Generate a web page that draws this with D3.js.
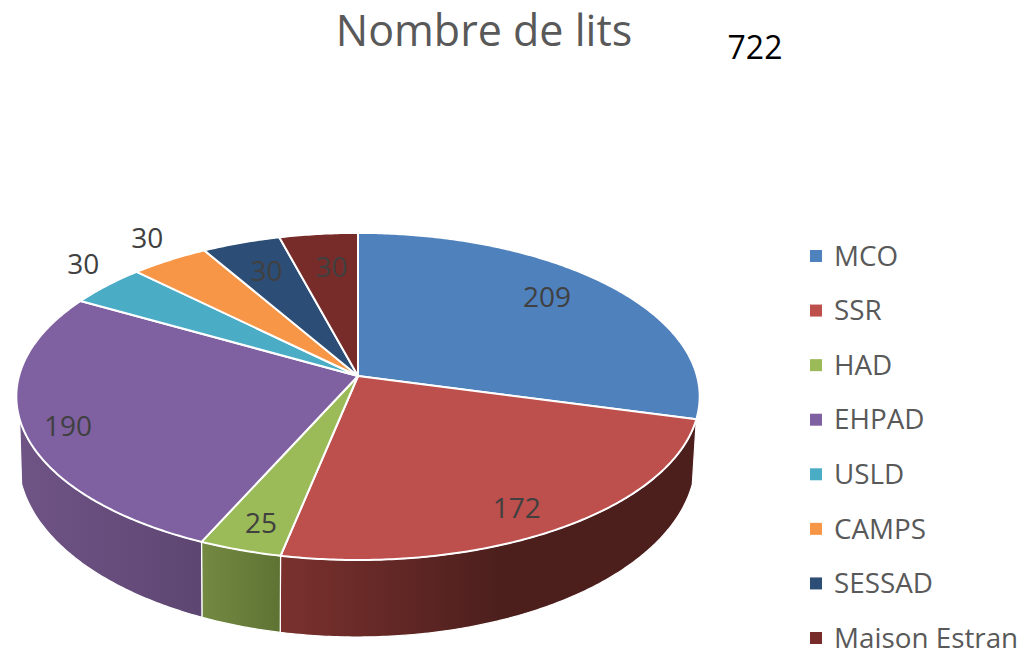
<!DOCTYPE html>
<html>
<head>
<meta charset="utf-8">
<script src="https://cdnjs.cloudflare.com/ajax/libs/d3/7.8.5/d3.min.js"></script>
<style>
  html, body { margin: 0; padding: 0; background: #fff; }
  text { font-family: "Open Sans", sans-serif; }
</style>
</head>
<body>
<div id="chart"></div>
<script>
// Chart data.
const categories = ["MCO", "SSR", "HAD", "EHPAD", "USLD", "CAMPS", "SESSAD", "Maison Estran"];
const values = [209, 172, 25, 190, 30, 30, 30, 30];
const colors = ["#4f81bd", "#bd4f4c", "#9bbb59", "#7f60a0", "#4bacc6", "#f79646", "#2c4d75", "#772c2a"];
const titleText = "Nombre de lits";
const totalText = "722";

const width = 1025,
  height = 651;

// Perspective of the disc: top face and bottom face of the 3D pie.
const topFace = { cx: 358, cy: 376, fx: 339, fy: 161, k: 0.125 };
const bottomFace = { cx: 357, cy: 437, fx: 336, fy: 175, k: 0.125 };
const wallTo = (255 * Math.PI) / 180;

// Shaded side walls, only the front slices show one.
const wallShades = {
  SSR: { x1: 281, x2: 500, from: "#7a312e", to: "#4c1f1d" },
  HAD: { x1: 201, x2: 281, from: "#748a42", to: "#5e7333" },
  EHPAD: { x1: 17, x2: 201, from: "#6f5486", to: "#5e4672" },
};

// Nudges of the data labels from their default spot on the slice.
const labelNudge = [[-14, -6], [3, 11], [-5, 11], [-24, 8], [-71, -40], [-57, -45], [4, 3], [6, 6]];

function project(face, angle, r) {
  const s = Math.sin(angle) * r,
    c = Math.cos(angle) * r,
    w = 1 + face.k * c;
  return [face.cx + (face.fx * s) / w, face.cy - (face.fy * c) / w];
}

function arcPoints(face, a0, a1) {
  const n = Math.max(2, Math.ceil((a1 - a0) / 0.01));
  return d3.range(n + 1).map((i) => project(face, a0 + ((a1 - a0) * i) / n, 1));
}

const svg = d3
  .select("#chart")
  .append("svg")
  .attr("width", width)
  .attr("height", height)
  .style("display", "block");

const arcs = d3.pie().sort(null).value((d) => d)(values);
const line = d3.line();
const defs = svg.append("defs");

// Side walls.
arcs.forEach((d, i) => {
  const shade = wallShades[categories[i]];
  if (!shade) return;
  const a0 = d.startAngle,
    a1 = Math.min(d.endAngle, wallTo);
  const id = "wall" + i;
  const grad = defs
    .append("linearGradient")
    .attr("id", id)
    .attr("gradientUnits", "userSpaceOnUse")
    .attr("x1", shade.x1)
    .attr("x2", shade.x2)
    .attr("y1", 0)
    .attr("y2", 0);
  grad.append("stop").attr("offset", 0).attr("stop-color", shade.from);
  grad.append("stop").attr("offset", 1).attr("stop-color", shade.to);

  const pts = arcPoints(topFace, a0, a1).concat(arcPoints(bottomFace, a0, a1).reverse());
  svg
    .append("path")
    .attr("d", line(pts) + "Z")
    .attr("fill", `url(#${id})`)
    .attr("stroke", "#fff")
    .attr("stroke-width", 1.2);
});

// Top face.
svg
  .selectAll("path.slice")
  .data(arcs)
  .enter()
  .append("path")
  .attr("class", "slice")
  .attr("d", (d) => line([[topFace.cx, topFace.cy]].concat(arcPoints(topFace, d.startAngle, d.endAngle))) + "Z")
  .attr("fill", (d, i) => colors[i])
  .attr("stroke", "#fff")
  .attr("stroke-width", 2)
  .attr("stroke-linejoin", "round");

// Data labels.
svg
  .selectAll("text.value")
  .data(arcs)
  .enter()
  .append("text")
  .attr("class", "value")
  .attr("x", (d, i) => project(topFace, (d.startAngle + d.endAngle) / 2, 0.8)[0] + labelNudge[i][0])
  .attr("y", (d, i) => project(topFace, (d.startAngle + d.endAngle) / 2, 0.8)[1] + labelNudge[i][1])
  .attr("text-anchor", "middle")
  .attr("dominant-baseline", "central")
  .attr("font-size", 28)
  .attr("fill", "#404040")
  .text((d) => d.value);

// Title and total.
svg
  .append("text")
  .attr("x", 484)
  .attr("y", 46)
  .attr("text-anchor", "middle")
  .attr("font-size", 43)
  .attr("fill", "#595959")
  .text(titleText);

svg
  .append("text")
  .attr("x", 755)
  .attr("y", 59)
  .attr("text-anchor", "middle")
  .attr("font-size", 32)
  .attr("fill", "#000")
  .text(totalText);

// Legend.
const legendY = d3.scalePoint().domain(categories).range([256, 638]);
const legend = svg
  .selectAll("g.legend")
  .data(categories)
  .enter()
  .append("g")
  .attr("class", "legend")
  .attr("transform", (d) => `translate(810,${legendY(d)})`);

legend
  .append("rect")
  .attr("x", 0)
  .attr("y", -6)
  .attr("width", 12)
  .attr("height", 12)
  .attr("fill", (d, i) => colors[i]);

legend
  .append("text")
  .attr("x", 24)
  .attr("dy", "0.35em")
  .attr("font-size", 27.8)
  .attr("fill", "#595959")
  .text((d) => d);
</script>
</body>
</html>
